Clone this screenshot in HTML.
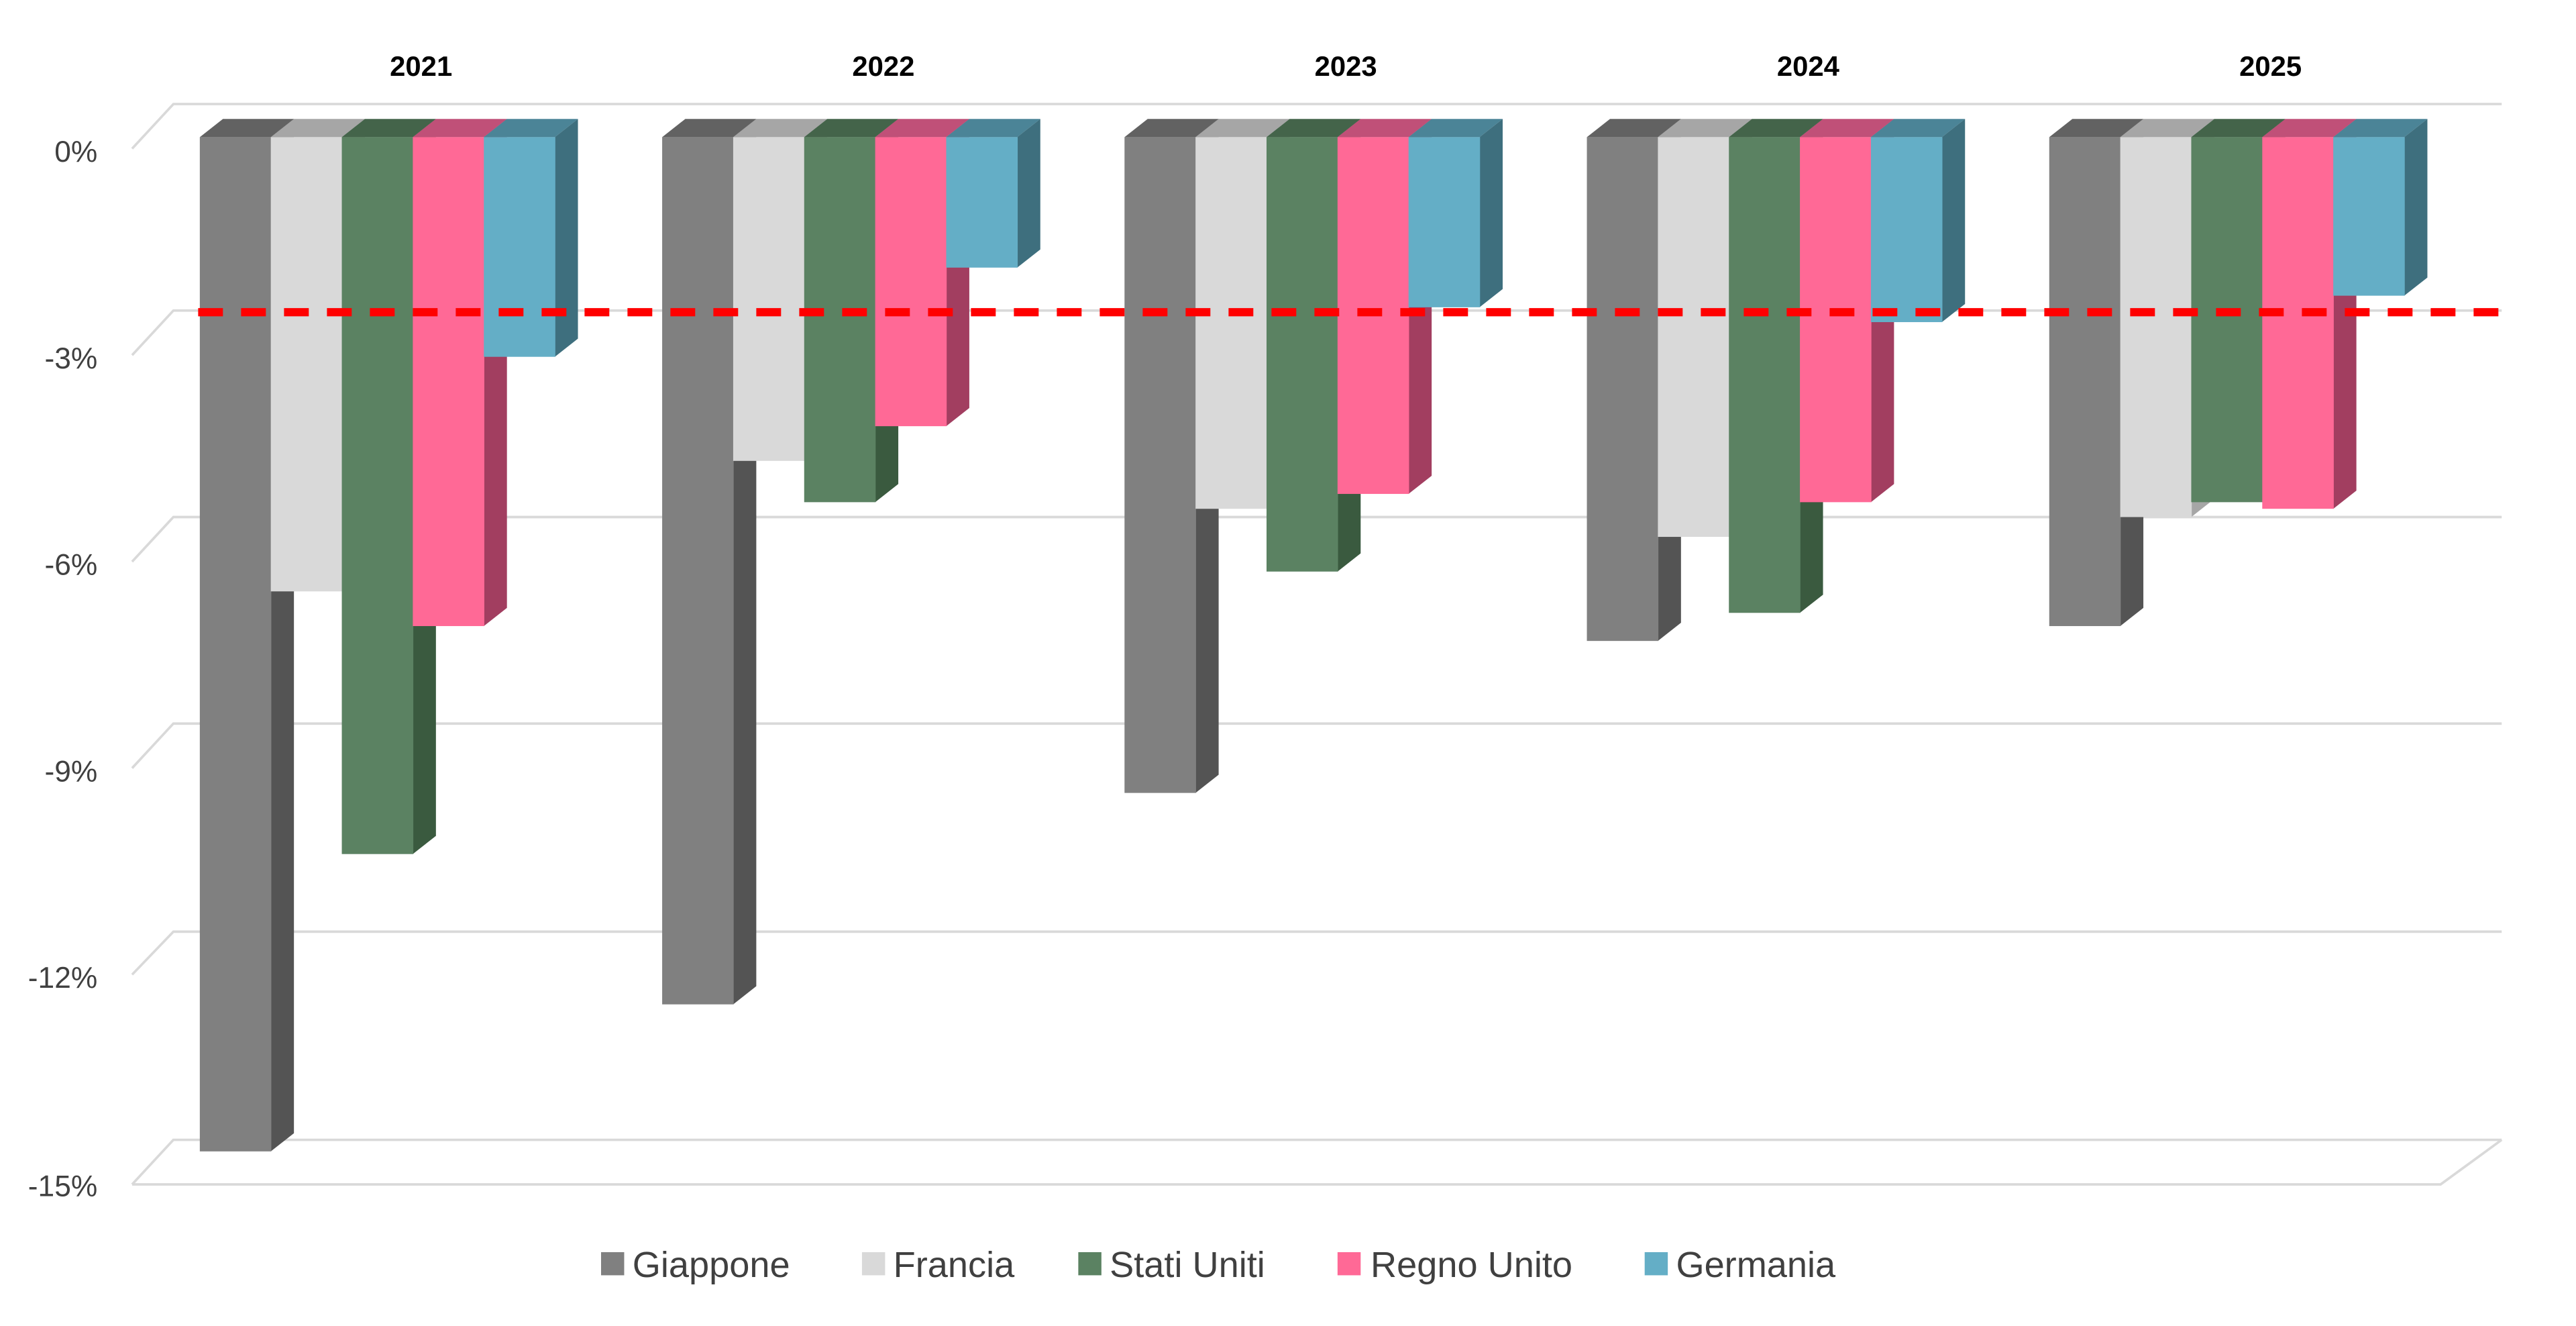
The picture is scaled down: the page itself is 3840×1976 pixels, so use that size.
<!DOCTYPE html>
<html><head><meta charset="utf-8"><style>
html,body{margin:0;padding:0;background:#fff;}
svg{display:block;}
text{font-family:"Liberation Sans",sans-serif;}
</style></head><body>
<svg width="3840" height="1976" viewBox="0 0 1560 802.7" preserveAspectRatio="none" xmlns="http://www.w3.org/2000/svg">
<rect width="1560" height="802.7" fill="#fff"/>
<g stroke="#d9d9d9" stroke-width="1.5" fill="none">
<path d="M80 90 L105 63 H1515"/>
<path d="M80 215 L105 188 H1515"/>
<path d="M80 340 L105 313 H1515"/>
<path d="M80 465 L105 438 H1515"/>
<path d="M80 590 L105 564 H1515"/>
<path d="M80 717 L105 690 H1515 M80 717 H1478 L1515 690"/>
</g>
<g font-size="18" fill="#404040" text-anchor="end">
<text x="59" y="98">0%</text>
<text x="59" y="223">-3%</text>
<text x="59" y="348">-6%</text>
<text x="59" y="473">-9%</text>
<text x="59" y="598">-12%</text>
<text x="59" y="724">-15%</text>
</g>
<g font-size="17" font-weight="bold" fill="#000" text-anchor="middle">
<text x="255" y="46">2021</text><text x="535" y="46">2022</text><text x="815" y="46">2023</text><text x="1095" y="46">2024</text><text x="1375" y="46">2025</text>
</g>

<!-- 2021 -->
<g transform="translate(121,0)"><polygon points="0,83 14,72 57,72 43,83" fill="#626262"/><polygon points="43,83 57,72 57,686 43,697" fill="#545454"/><rect x="0" y="83" width="43.3" height="614" fill="#808080"/></g>
<g transform="translate(164,0)"><polygon points="0,83 14,72 57,72 43,83" fill="#a6a6a6"/><polygon points="43,83 57,72 57,347 43,358" fill="#a6a6a6"/><rect x="0" y="83" width="43.3" height="275" fill="#d9d9d9"/></g>
<g transform="translate(207,0)"><polygon points="0,83 14,72 57,72 43,83" fill="#44644a"/><polygon points="43,83 57,72 57,506 43,517" fill="#3a5a3f"/><rect x="0" y="83" width="43.3" height="434" fill="#5b8262"/></g>
<g transform="translate(250,0)"><polygon points="0,83 14,72 57,72 43,83" fill="#c05078"/><polygon points="43,83 57,72 57,368 43,379" fill="#a23e60"/><rect x="0" y="83" width="43.3" height="296" fill="#ff6996"/></g>
<g transform="translate(293,0)"><polygon points="0,83 14,72 57,72 43,83" fill="#4b8497"/><polygon points="43,83 57,72 57,205 43,216" fill="#3e6f7e"/><rect x="0" y="83" width="43.3" height="133" fill="#64aec6"/></g>
<!-- 2022 -->
<g transform="translate(401,0)"><polygon points="0,83 14,72 57,72 43,83" fill="#626262"/><polygon points="43,83 57,72 57,597 43,608" fill="#545454"/><rect x="0" y="83" width="43.3" height="525" fill="#808080"/></g>
<g transform="translate(444,0)"><polygon points="0,83 14,72 57,72 43,83" fill="#a6a6a6"/><polygon points="43,83 57,72 57,268 43,279" fill="#a6a6a6"/><rect x="0" y="83" width="43.3" height="196" fill="#d9d9d9"/></g>
<g transform="translate(487,0)"><polygon points="0,83 14,72 57,72 43,83" fill="#44644a"/><polygon points="43,83 57,72 57,293 43,304" fill="#3a5a3f"/><rect x="0" y="83" width="43.3" height="221" fill="#5b8262"/></g>
<g transform="translate(530,0)"><polygon points="0,83 14,72 57,72 43,83" fill="#c05078"/><polygon points="43,83 57,72 57,247 43,258" fill="#a23e60"/><rect x="0" y="83" width="43.3" height="175" fill="#ff6996"/></g>
<g transform="translate(573,0)"><polygon points="0,83 14,72 57,72 43,83" fill="#4b8497"/><polygon points="43,83 57,72 57,151 43,162" fill="#3e6f7e"/><rect x="0" y="83" width="43.3" height="79" fill="#64aec6"/></g>
<!-- 2023 -->
<g transform="translate(681,0)"><polygon points="0,83 14,72 57,72 43,83" fill="#626262"/><polygon points="43,83 57,72 57,469 43,480" fill="#545454"/><rect x="0" y="83" width="43.3" height="397" fill="#808080"/></g>
<g transform="translate(724,0)"><polygon points="0,83 14,72 57,72 43,83" fill="#a6a6a6"/><polygon points="43,83 57,72 57,297 43,308" fill="#a6a6a6"/><rect x="0" y="83" width="43.3" height="225" fill="#d9d9d9"/></g>
<g transform="translate(767,0)"><polygon points="0,83 14,72 57,72 43,83" fill="#44644a"/><polygon points="43,83 57,72 57,335 43,346" fill="#3a5a3f"/><rect x="0" y="83" width="43.3" height="263" fill="#5b8262"/></g>
<g transform="translate(810,0)"><polygon points="0,83 14,72 57,72 43,83" fill="#c05078"/><polygon points="43,83 57,72 57,288 43,299" fill="#a23e60"/><rect x="0" y="83" width="43.3" height="216" fill="#ff6996"/></g>
<g transform="translate(853,0)"><polygon points="0,83 14,72 57,72 43,83" fill="#4b8497"/><polygon points="43,83 57,72 57,175 43,186" fill="#3e6f7e"/><rect x="0" y="83" width="43.3" height="103" fill="#64aec6"/></g>
<!-- 2024 -->
<g transform="translate(961,0)"><polygon points="0,83 14,72 57,72 43,83" fill="#626262"/><polygon points="43,83 57,72 57,377 43,388" fill="#545454"/><rect x="0" y="83" width="43.3" height="305" fill="#808080"/></g>
<g transform="translate(1004,0)"><polygon points="0,83 14,72 57,72 43,83" fill="#a6a6a6"/><polygon points="43,83 57,72 57,314 43,325" fill="#a6a6a6"/><rect x="0" y="83" width="43.3" height="242" fill="#d9d9d9"/></g>
<g transform="translate(1047,0)"><polygon points="0,83 14,72 57,72 43,83" fill="#44644a"/><polygon points="43,83 57,72 57,360 43,371" fill="#3a5a3f"/><rect x="0" y="83" width="43.3" height="288" fill="#5b8262"/></g>
<g transform="translate(1090,0)"><polygon points="0,83 14,72 57,72 43,83" fill="#c05078"/><polygon points="43,83 57,72 57,293 43,304" fill="#a23e60"/><rect x="0" y="83" width="43.3" height="221" fill="#ff6996"/></g>
<g transform="translate(1133,0)"><polygon points="0,83 14,72 57,72 43,83" fill="#4b8497"/><polygon points="43,83 57,72 57,184 43,195" fill="#3e6f7e"/><rect x="0" y="83" width="43.3" height="112" fill="#64aec6"/></g>
<!-- 2025 -->
<g transform="translate(1241,0)"><polygon points="0,83 14,72 57,72 43,83" fill="#626262"/><polygon points="43,83 57,72 57,368 43,379" fill="#545454"/><rect x="0" y="83" width="43.3" height="296" fill="#808080"/></g>
<g transform="translate(1284,0)"><polygon points="0,83 14,72 57,72 43,83" fill="#a6a6a6"/><polygon points="43,83 57,72 57,302 43,313" fill="#a6a6a6"/><rect x="0" y="83" width="43.3" height="230" fill="#d9d9d9"/></g>
<g transform="translate(1327,0)"><polygon points="0,83 14,72 57,72 43,83" fill="#44644a"/><polygon points="43,83 57,72 57,293 43,304" fill="#3a5a3f"/><rect x="0" y="83" width="43.3" height="221" fill="#5b8262"/></g>
<g transform="translate(1370,0)"><polygon points="0,83 14,72 57,72 43,83" fill="#c05078"/><polygon points="43,83 57,72 57,297 43,308" fill="#a23e60"/><rect x="0" y="83" width="43.3" height="225" fill="#ff6996"/></g>
<g transform="translate(1413,0)"><polygon points="0,83 14,72 57,72 43,83" fill="#4b8497"/><polygon points="43,83 57,72 57,168 43,179" fill="#3e6f7e"/><rect x="0" y="83" width="43.3" height="96" fill="#64aec6"/></g>

<line x1="120" y1="189" x2="1515" y2="189" stroke="#ff0000" stroke-width="5" stroke-dasharray="15 11"/>
<g font-size="22" fill="#404040">
<rect x="364" y="758" width="14" height="14" fill="#808080"/><text x="383" y="773">Giappone</text>
<rect x="522" y="758" width="14" height="14" fill="#d9d9d9"/><text x="541" y="773">Francia</text>
<rect x="653" y="758" width="14" height="14" fill="#5b8262"/><text x="672" y="773">Stati Uniti</text>
<rect x="810" y="758" width="14" height="14" fill="#ff6996"/><text x="830" y="773">Regno Unito</text>
<rect x="996" y="758" width="14" height="14" fill="#64aec6"/><text x="1015" y="773">Germania</text>
</g>
</svg>
</body></html>
